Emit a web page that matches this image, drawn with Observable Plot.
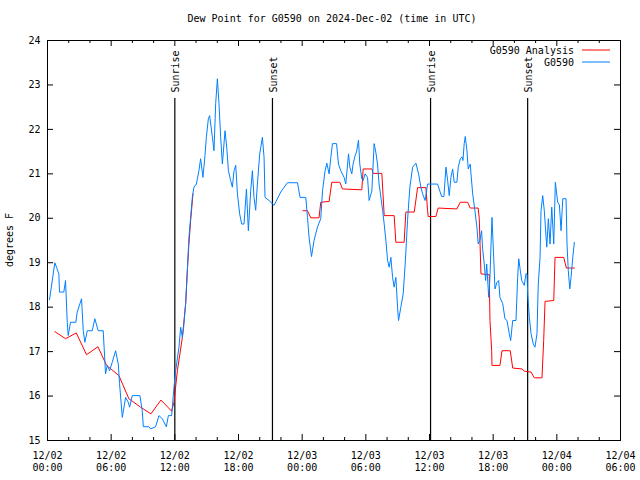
<!DOCTYPE html>
<html><head><meta charset="utf-8">
<script src="https://cdn.jsdelivr.net/npm/d3@7"></script>
<script src="https://cdn.jsdelivr.net/npm/@observablehq/plot@0.6"></script>
<style>html,body{margin:0;padding:0;background:#fff}#chart svg{display:block}</style>
</head><body><div id="chart"></div>
<script>
const title = "Dew Point for G0590 on 2024-Dec-02 (time in UTC)";
const yLabel = "degrees F";
const seriesNames = ["G0590 Analysis", "G0590"];
const seriesColors = ["#ff0000", "#0080ff"];
const startTime = "2024-12-02T00:00:00Z";
const endTime = "2024-12-04T06:00:00Z";
const yTicks = [15, 16, 17, 18, 19, 20, 21, 22, 23, 24];

// hours since 2024-12-02 00:00 UTC
const obsHours = [0.19,0.69,0.85,1.07,1.13,1.54,1.70,1.86,1.95,2.17,2.67,2.80,3.21,3.37,3.52,3.75,4.22,4.46,4.78,5.25,5.47,5.63,5.85,6.10,6.42,6.67,6.79,7.05,7.36,7.61,7.74,7.99,8.71,8.93,9.03,9.56,9.72,10.19,10.50,10.82,11.20,11.39,11.70,11.92,12.08,12.39,12.55,12.71,12.83,13.02,13.18,13.33,13.49,13.65,13.80,14.03,14.27,14.43,14.65,14.84,14.97,15.16,15.28,15.38,15.54,15.69,15.85,16.01,16.16,16.32,16.48,16.73,16.89,17.05,17.26,17.42,17.58,17.74,17.90,18.11,18.30,18.52,18.75,18.93,19.15,19.31,19.46,19.62,19.78,20.00,20.25,20.41,20.50,20.88,21.35,21.98,22.61,23.56,23.80,24.34,24.50,24.65,24.88,25.12,25.44,25.75,25.92,26.16,26.32,26.54,26.70,26.86,27.24,27.42,27.64,27.95,28.11,28.37,28.49,28.68,28.80,28.99,29.12,29.31,29.43,29.62,29.75,29.93,30.16,30.31,30.57,30.78,30.94,31.10,31.25,31.42,31.58,31.73,31.89,32.05,32.20,32.36,32.52,32.67,32.83,32.99,33.08,33.30,33.52,33.71,33.93,34.15,34.41,34.72,34.97,35.19,35.35,35.59,35.82,36.76,37.14,37.36,37.55,37.71,37.86,38.02,38.18,38.33,38.58,38.71,38.90,39.06,39.15,39.27,39.37,39.53,39.65,39.84,39.91,40.07,40.28,40.47,40.59,40.75,40.91,41.01,41.16,41.29,41.39,41.58,41.70,41.79,41.89,42.05,42.17,42.36,42.52,42.64,42.90,43.11,43.30,43.52,43.65,43.84,44.15,44.31,44.41,44.56,44.69,44.93,45.09,45.19,45.25,45.41,45.57,45.78,45.94,46.13,46.25,46.42,46.51,46.67,46.82,47.05,47.20,47.36,47.52,47.71,47.86,48.08,48.24,48.40,48.56,48.87,48.96,49.08,49.22,49.34,49.50,49.65];
const obsValues = [18.17,19.0,18.9,18.75,18.34,18.34,18.6,17.66,17.36,17.66,17.66,17.89,18.19,17.47,17.21,17.47,17.47,17.74,17.47,17.47,16.5,16.69,16.57,16.76,17.02,16.72,16.28,15.52,15.97,15.86,15.75,16.01,16.01,15.67,15.31,15.31,15.26,15.31,15.56,15.49,15.31,15.56,15.56,16.2,16.57,17.1,17.55,17.32,17.55,18.08,18.83,19.57,20.02,20.47,20.7,20.77,21.07,21.34,20.92,21.41,21.82,22.24,22.31,22.12,21.82,21.52,22.58,23.14,22.58,21.82,21.22,21.97,21.6,21.07,20.85,20.7,21.07,21.19,20.55,20.1,19.87,19.87,20.66,19.72,20.62,21.07,20.47,20.18,20.77,21.45,21.82,21.37,20.47,20.4,20.29,20.59,20.8,20.8,20.47,20.47,20.02,19.57,19.14,19.5,19.8,19.99,20.62,21.07,21.24,21.0,21.37,21.68,21.68,21.22,21.07,20.92,20.77,21.45,21.15,21.0,21.22,21.41,21.49,21.76,21.22,20.89,20.85,21.0,20.92,20.4,20.62,21.68,21.49,21.22,20.77,20.47,20.18,19.87,19.5,19.05,18.9,19.12,18.67,18.45,18.67,18.0,17.7,18.0,18.3,18.97,19.95,20.7,21.15,21.24,21.0,20.7,20.55,20.4,20.77,20.77,20.49,20.49,21.15,20.85,20.51,20.92,21.11,20.81,20.81,21.15,21.34,21.38,21.3,21.68,21.84,21.52,21.11,21.22,21.0,20.55,20.17,19.8,19.42,19.5,19.72,19.3,18.97,18.6,18.97,18.22,18.67,19.35,20.02,19.12,18.41,18.56,18.6,18.22,18.08,17.74,17.7,17.4,17.25,17.7,17.7,18.67,19.09,18.82,18.6,18.49,18.75,18.75,18.3,17.77,17.4,17.17,17.1,17.4,18.52,19.12,20.17,20.51,20.17,19.35,19.99,19.42,20.25,19.42,20.81,20.36,20.3,19.72,20.44,20.44,19.42,18.82,18.41,18.67,19.12,19.46];

const anaHours = [0.69,1.70,2.71,3.68,4.75,5.57,6.73,7.67,8.77,9.75,10.69,11.70,11.92,12.24,12.71,13.02,13.18,13.33,13.49,13.71,18.0,24.08,24.50,24.81,25.59,25.75,26.54,26.79,27.55,27.80,29.62,29.75,30.57,30.69,31.51,31.73,32.67,32.83,33.61,33.77,34.56,34.88,35.66,35.82,35.88,36.60,36.82,38.58,38.90,39.59,39.84,40.59,40.69,40.85,41.63,41.70,41.86,41.89,42.64,42.83,43.61,43.84,44.72,44.93,45.57,45.88,46.60,46.76,46.89,47.71,47.83,48.65,48.90,49.65];
const anaValues = [17.45,17.29,17.42,16.93,17.11,16.69,16.46,15.94,15.75,15.6,15.91,15.66,15.86,16.57,17.32,18.08,18.83,19.43,19.95,20.55,NaN,20.17,20.17,20.01,20.01,20.36,20.38,20.81,20.81,20.66,20.64,21.11,21.11,21.01,21.01,20.06,20.06,19.46,19.46,20.14,20.14,20.69,20.69,20.17,20.04,20.04,20.23,20.21,20.36,20.36,20.23,20.23,19.99,18.75,18.73,17.7,17.02,16.69,16.69,17.02,17.02,16.63,16.61,16.56,16.54,16.41,16.41,17.25,18.13,18.15,19.12,19.12,18.88,18.88];

const eventNames = ["Sunrise", "Sunset", "Sunrise", "Sunset"];
const eventHours = [12.0, 21.2, 36.1, 45.25];

const t0 = new Date(startTime), t1 = new Date(endTime);
const toDate = h => new Date(t0.getTime() + h * 3600e3);
const obs = obsHours.map((h, i) => ({t: toDate(h), v: obsValues[i]}));
const ana = anaHours.map((h, i) => ({t: toDate(h), v: anaValues[i]}));
const events = eventHours.map((h, i) => ({t: toDate(h), name: eventNames[i]}));
const majorTicks = d3.utcHour.every(6).range(t0, new Date(t1.getTime() + 1));
const minorTicks = d3.utcHour.every(2).range(t0, new Date(t1.getTime() + 1)).filter(d => d.getUTCHours() % 6 !== 0);
const fmt = d => d3.utcFormat("%m/%d")(d) + "\n" + d3.utcFormat("%H:%M")(d);
const font = "DejaVu Sans Mono";

const chart = Plot.plot({
  width: 640, height: 480,
  marginLeft: 47, marginRight: 20, marginTop: 40, marginBottom: 40,
  style: {fontFamily: font, fontSize: "10px", background: "#fff", color: "#000"},
  x: {type: "utc", domain: [t0, t1]},
  y: {domain: [15, 24]},
  marks: [
    Plot.axisX({ticks: majorTicks, tickSize: 0, tickPadding: 10, tickFormat: fmt, label: null, lineHeight: 1.2, fontSize: 10, fill: "#000"}),
    Plot.axisY({ticks: yTicks, tickSize: 0, tickPadding: 7, label: null, fontSize: 10, fill: "#000"}),
    Plot.ruleX(majorTicks, {x: d => d, insetTop: 394, stroke: "#000"}),
    Plot.ruleX(majorTicks, {x: d => d, insetBottom: 394, stroke: "#000"}),
    Plot.ruleX(minorTicks, {x: d => d, insetTop: 397, stroke: "#000"}),
    Plot.ruleX(minorTicks, {x: d => d, insetBottom: 397, stroke: "#000"}),
    Plot.ruleY(yTicks, {y: d => d, insetRight: 567, stroke: "#000"}),
    Plot.ruleY(yTicks, {y: d => d, insetLeft: 567, stroke: "#000"}),
    Plot.ruleX(events, {x: "t", insetTop: 58, stroke: "#000", strokeWidth: 1.2}),
    Plot.text(events, {x: "t", text: "name", frameAnchor: "top", dy: 52, dx: -3, rotate: -90, textAnchor: "start", fontSize: 10, fill: "#000"}),
    Plot.line(ana, {x: "t", y: "v", stroke: seriesColors[0], strokeWidth: 1}),
    Plot.line(obs, {x: "t", y: "v", stroke: seriesColors[1], strokeWidth: 1}),
    Plot.frame({stroke: "#000"})
  ]
});
document.getElementById("chart").appendChild(chart);

const svg = d3.select(chart);
svg.append("text").attr("x", 332).attr("y", 19).attr("dy", "0.32em").attr("text-anchor", "middle")
  .attr("font-family", font).attr("font-size", 10).attr("fill", "#000").text(title);
svg.append("text").attr("transform", "translate(10,240) rotate(-90)").attr("dy", "0.32em").attr("text-anchor", "middle")
  .attr("font-family", font).attr("font-size", 10).attr("fill", "#000").text(yLabel);
const leg = svg.append("g");
seriesNames.forEach((name, i) => {
  const y = 50 + i * 12;
  leg.append("text").attr("x", 574).attr("y", y + 1).attr("dy", "0.32em").attr("text-anchor", "end")
    .attr("font-family", font).attr("font-size", 10).attr("fill", "#000").text(name);
  leg.append("line").attr("x1", 582).attr("x2", 610).attr("y1", y).attr("y2", y)
    .attr("stroke", seriesColors[i]).attr("stroke-width", 1);
});
</script>
</body></html>
